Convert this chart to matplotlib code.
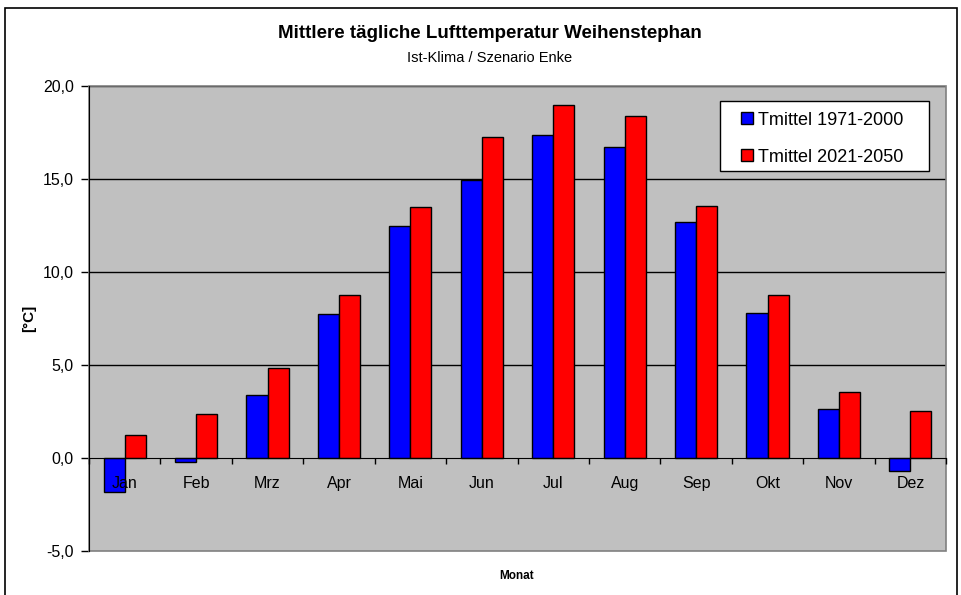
import matplotlib
matplotlib.use('Agg')
import matplotlib.pyplot as plt
from matplotlib.patches import Rectangle, Patch
from matplotlib.ticker import FixedLocator, FuncFormatter
import numpy as np

plt.rcParams['font.family'] = ['Liberation Sans', 'DejaVu Sans']

# monthly mean daily air temperature, Weihenstephan
months = ['Jan', 'Feb', 'Mrz', 'Apr', 'Mai', 'Jun', 'Jul', 'Aug', 'Sep', 'Okt', 'Nov', 'Dez']
t_1971_2000 = [-1.83, -0.22, 3.39, 7.76, 12.45, 14.96, 17.35, 16.72, 12.70, 7.82, 2.65, -0.70]
t_2021_2050 = [1.22, 2.35, 4.85, 8.78, 13.47, 17.26, 18.96, 18.37, 13.56, 8.78, 3.55, 2.54]
series_labels = ['Tmittel 1971-2000', 'Tmittel 2021-2050']
y_ticks = [-5, 0, 5, 10, 15, 20]

fig = plt.figure(figsize=(9.62, 5.95), dpi=100)
ax = fig.add_axes([0.0925, 0.074, 0.891, 0.7815])
ax.set_facecolor('#C0C0C0')

x = np.arange(len(months))
w = 0.295
ax.bar(x - w / 2, t_1971_2000, w, color='#0000FF', edgecolor='black', linewidth=1, zorder=3)
ax.bar(x + w / 2, t_2021_2050, w, color='#FF0000', edgecolor='black', linewidth=1, zorder=3)

ax.set_xlim(-0.5, len(months) - 0.5)
ax.set_ylim(-5, 20)

# gridlines
for g in [5, 10, 15, 20]:
    ax.axhline(g, color='black', linewidth=1, zorder=1)

# y axis
ax.yaxis.set_major_locator(FixedLocator(y_ticks))
ax.yaxis.set_major_formatter(FuncFormatter(lambda v, p: f'{v:.1f}'.replace('.', ',')))
ax.tick_params(axis='y', direction='out', length=6, width=1, labelsize=11.5, pad=5)

# x axis crosses at 0, ticks at category boundaries; labels drawn over the bars
ax.spines['bottom'].set_position(('data', 0))
ax.spines['bottom'].set_zorder(4)
ax.xaxis.set_zorder(4)
ax.set_xticks(x)
ax.set_xticklabels(months)
ax.set_xticks(np.arange(len(months) + 1) - 0.5, minor=True)
ax.tick_params(axis='x', which='major', length=0, labelsize=11.5, pad=13)
ax.tick_params(axis='x', which='minor', direction='out', length=4, width=1)

for s in ['top', 'right']:
    ax.spines[s].set_visible(False)
ax.add_patch(Rectangle((0, 0), 1, 1, transform=ax.transAxes, fill=False,
                       edgecolor='#808080', linewidth=1.2, clip_on=False, zorder=2))
ax.spines['left'].set_zorder(5)

# legend with its own frame
ax.add_patch(Rectangle((0.736, 0.817), 0.244, 0.151, transform=ax.transAxes,
                       facecolor='white', edgecolor='black', linewidth=1, zorder=6))
handles = [Patch(facecolor='#0000FF', edgecolor='black'),
           Patch(facecolor='#FF0000', edgecolor='black')]
leg = ax.legend(handles, series_labels, loc='upper left', bbox_to_anchor=(0.761, 0.945),
                frameon=False, fontsize=13, borderpad=0, borderaxespad=0,
                handlelength=0.65, handleheight=0.65, handletextpad=0.25, labelspacing=1.12)
leg.set_zorder(7)

# titles and axis labels
fig.text(0.509, 0.9445, 'Mittlere tägliche Lufttemperatur Weihenstephan',
         ha='center', va='center', fontsize=13.5, fontweight='bold')
fig.text(0.509, 0.9025, 'Ist-Klima / Szenario Enke', ha='center', va='center', fontsize=10.5)
fig.text(0.03, 0.4655, '[°C]', ha='center', va='center', rotation=90,
         fontsize=11, fontweight='bold')
fig.text(0.537, 0.032, 'Monat', ha='center', va='center', fontsize=8.5, fontweight='bold')

# outer chart border (bottom edge is cut off)
fig.patches.append(Rectangle((0.005, -0.05), 0.99, 1.0366, transform=fig.transFigure,
                             fill=False, edgecolor='black', linewidth=1.2))

fig.savefig('out.png', dpi=100)
